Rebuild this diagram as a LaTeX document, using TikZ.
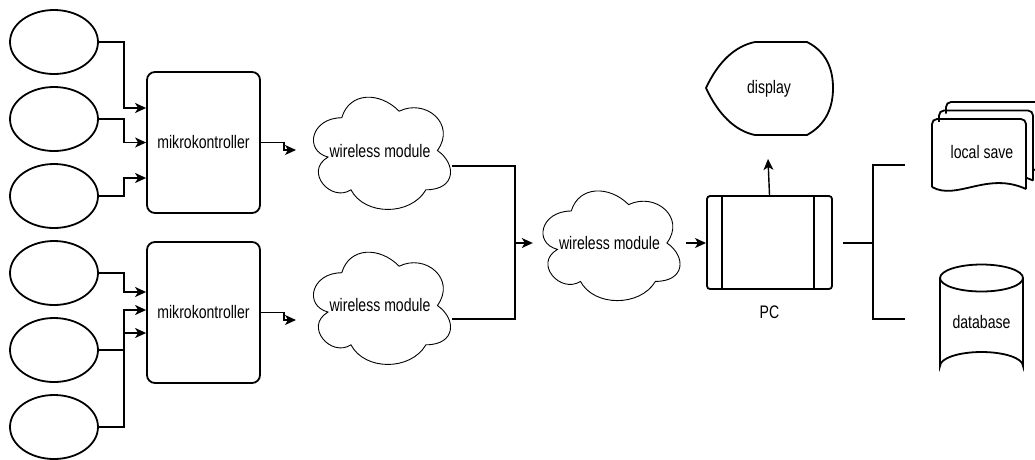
\documentclass[tikz,border=0pt]{standalone}
\usepackage{fontspec}
\usepackage{graphicx}
\setmainfont{Liberation Sans}
\usetikzlibrary{arrows.meta,shapes.geometric}
\newcommand\lbl[1]{\scalebox{0.97}[1.25]{#1}}
\newcommand\drawcloud[4]{% left, top, width, height of the cell
  \begin{scope}[shift={(#1,#2)},x=#3pt,y=-#4pt]
    \draw[line width=0.9pt,fill=white] (0.25,0.25) .. controls (0.05,0.25) and (0,0.5) .. (0.16,0.55)
      .. controls (0,0.66) and (0.18,0.9) .. (0.31,0.8)
      .. controls (0.4,1) and (0.7,1) .. (0.8,0.8)
      .. controls (1,0.8) and (1,0.6) .. (0.875,0.5)
      .. controls (1,0.3) and (0.8,0.1) .. (0.625,0.2)
      .. controls (0.5,0.05) and (0.3,0.05) .. (0.25,0.25) -- cycle;
  \end{scope}}
\begin{document}
\begin{tikzpicture}[x=1pt,y=-1pt,
  every node/.style={font=\fontsize{14.5}{16}\selectfont},
  sensor/.style={ellipse,draw,line width=1.8pt,minimum width=88pt,minimum height=64pt,inner sep=0},
  mcu/.style={rectangle,draw,line width=1.8pt,rounded corners=8pt,minimum width=113pt,minimum height=141pt,inner sep=0},
  cellbox/.style={rectangle,inner sep=0,minimum width=153pt,minimum height=130pt},
  arr/.style={line width=1.4pt,-{Stealth[length=11pt,width=10pt,inset=3pt]}},
  bus/.style={line width=2.2pt},
  outline/.style={line width=1.8pt}]
\useasboundingbox (0,0) rectangle (1035,459);

% sensors
\node[sensor] (e1) at (54,42) {};
\node[sensor] (e2) at (54,119) {};
\node[sensor] (e3) at (54,196) {};
\node[sensor] (e4) at (54,273) {};
\node[sensor] (e5) at (54,350) {};
\node[sensor] (e6) at (54,427) {};

% microcontrollers
\node[mcu] (m1) at (203.5,142.5) {\lbl{mikrokontroller}};
\node[mcu] (m2) at (203.5,312.5) {\lbl{mikrokontroller}};

\draw[arr] (e1.east) -- ++(25,0) |- ([yshift=34.5pt]m1.west);
\draw[arr] (e2.east) -- ++(25,0) |- (m1.west);
\draw[arr] (e3.east) -- ++(25,0) |- ([yshift=-35.5pt]m1.west);
\draw[arr] (e4.east) -- ++(25,0) |- ([yshift=20.5pt]m2.west);
\draw[arr] (e5.east) -- ++(25,0) |- ([yshift=2.5pt]m2.west);
\draw[arr] (e6.east) -- ++(25,0) |- ([yshift=-20.5pt]m2.west);

% clouds
\drawcloud{303.5}{85}{153}{131}
\drawcloud{303.5}{240}{153}{131}
\drawcloud{533}{179}{153}{128}
\node[cellbox] (c1) at (380,151) {\lbl{wireless module}};
\node[cellbox] (c2) at (380,305) {\lbl{wireless module}};
\node[cellbox] (c3) at (609.5,243) {\lbl{wireless module}};

\coordinate (t1) at (296,150);
\coordinate (t2) at (296,320);
\draw[arr] (m1.east) -- ++(23,0) |- (t1);
\draw[arr] (m2.east) -- ++(23,0) |- (t2);

\coordinate (o1) at (452,166);
\coordinate (o2) at (452,319);
\coordinate (j) at (515,243);
\draw[bus] (o1) -| (j) |- (o2);
\draw[arr] (j) -- (c3.west);

% PC
\node[rectangle,draw,line width=1.8pt,rounded corners=3pt,minimum width=125pt,minimum height=93pt,inner sep=0] (pc) at (769.5,242.5) {};
\draw[outline] ([xshift=16pt]pc.north west) -- ([xshift=16pt]pc.south west);
\draw[outline] ([xshift=-19pt]pc.north east) -- ([xshift=-19pt]pc.south east);
\node[anchor=north] (pcl) at ([yshift=-12pt]pc.south) {\lbl{PC}};
\coordinate (pin) at (706,243);
\draw[arr] (c3.east) -- (pin);

% display
\draw[outline] (706,88) .. controls (718,62) and (735,46) .. (755,42) -- (807,42)
  .. controls (827,52) and (833,70) .. (833,88)
  .. controls (833,106) and (827,124) .. (807,135) -- (755,135)
  .. controls (735,131) and (718,114) .. (706,88) -- cycle;
\node[minimum width=126pt,minimum height=93pt,inner sep=0] (disp) at (769,88.5) {\lbl{display}};
\coordinate (dt) at (768,159);
\draw[arr] (pc.north) -- (dt);

% bracket to storage
\coordinate (pout) at (843,243);
\coordinate (b) at (873,243);
\coordinate (bs) at (905,165);
\coordinate (bd) at (905,319);
\draw[bus] (pout) -- (b);
\draw[bus] (bs) -| (b) |- (bd);

% local save (multi document)
\foreach \dx/\dy in {14/-17, 7/-8.5, 0/0}{
  \begin{scope}[shift={(932+\dx,119+\dy)}]
    \fill[white] (0,68) .. controls (25,82) and (55,52) .. (94,70) -- (94,3) -- (0,3) -- cycle;
    \draw[outline,rounded corners=5pt] (0,68) -- (0,0) -- (94,0) [sharp corners] -- (94,70);
    \draw[outline] (0,68) .. controls (25,82) and (55,52) .. (94,70);
  \end{scope}
}
\node[minimum width=94pt,minimum height=70pt,inner sep=0] (ls) at (982,152) {\lbl{local save}};

% database
\draw[outline,fill=white] (940,278) -- (940,366) arc[start angle=180,end angle=360,x radius=41.5,y radius=14] -- (1023,278);
\draw[outline,fill=white] (981.5,278) ellipse[x radius=41.5,y radius=13.5];
\node[minimum width=83pt,minimum height=100pt,inner sep=0] (db) at (981.5,322) {\lbl{database}};
\end{tikzpicture}
\end{document}
